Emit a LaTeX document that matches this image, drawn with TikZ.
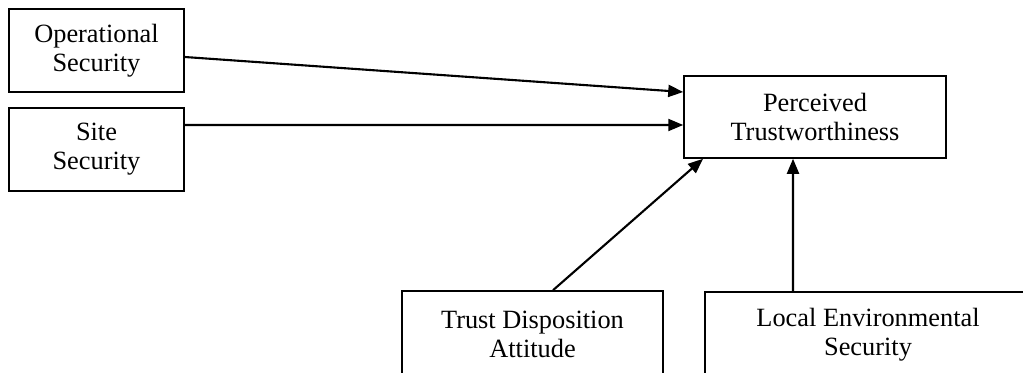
\documentclass[tikz,border=0pt]{standalone}
\usepackage{fontspec}
\setmainfont{Liberation Serif}
\usetikzlibrary{arrows.meta, positioning}

\begin{document}
\begin{tikzpicture}[x=0.02cm, y=0.02cm,
	box/.style={draw, line width=0.9pt, align=center, inner sep=0pt, font=\fontsize{15}{16.6}\selectfont},
	link/.style={-{Triangle[length=3mm,width=2.4mm]}, line width=1.2pt}]
			\useasboundingbox (0, 0) rectangle (1023, 372);
			\clip (0, 0) rectangle (1023, 372);
			\node[box, minimum width=3.5cm, minimum height=1.66cm] (opsec) at (96.5, 321.5) {Operational\\Security};
			\node[box, minimum width=3.5cm, minimum height=1.66cm] (site) at (96.5, 222.5) {Site\\Security};
			\node[box, minimum width=5.24cm, minimum height=1.64cm] (perceived) at (815, 255) {Perceived\\Trustworthiness};
			\node[box, minimum width=5.22cm, minimum height=1.72cm] (trust) at (532.5, 38) {Trust Disposition\\Attitude};
			\node[box, minimum width=6.52cm, minimum height=1.72cm] (local) at (868, 37) {Local Environmental\\Security};
			\draw [link] ([yshift=-0.13cm]opsec.east) -- ([yshift=0.5cm]perceived.west);
			\draw [link] ([yshift=0.49cm]site.east) -- ([yshift=-0.16cm]perceived.west);
			\draw [link] ([xshift=0.41cm]trust.north) -- ([xshift=-2.24cm]perceived.south);
			\draw [link] ([xshift=-1.5cm]local.north) -- ([xshift=-0.44cm]perceived.south);
		\end{tikzpicture}
\end{document}
